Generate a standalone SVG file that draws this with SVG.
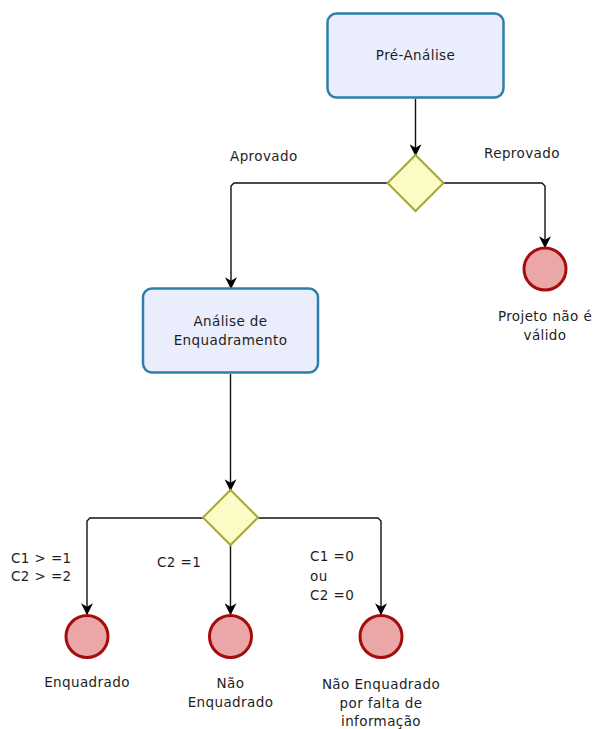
<svg xmlns="http://www.w3.org/2000/svg" width="595" height="729" viewBox="0 0 595 729">
<style>
.task{fill:#eaedfc;stroke:#2c7fa9;stroke-width:2.5}
.gw{fill:#fbfbc6;stroke:#a6a633;stroke-width:2}
.end{fill:#eba6a8;stroke:#a50d0d;stroke-width:3}
.conn{fill:none;stroke:#111;stroke-width:1.4}
text{font-family:"DejaVu Sans","Noto Sans",sans-serif;font-size:13.5px;fill:#1e1e1e;letter-spacing:0.4px}
.c{text-anchor:middle}
</style>
<defs>
<marker id="arr" viewBox="0 0 10 10" refX="9" refY="5" markerWidth="12" markerHeight="12" markerUnits="userSpaceOnUse" orient="auto">
<path d="M0,0 L10,5 L0,10 L3,5 z" fill="#000"/>
</marker>
</defs>
<g id="connectors">
<path class="conn" d="M415.5,99 V155" marker-end="url(#arr)"/>
<path class="conn" d="M388,183 H234 L231,186 V288" marker-end="url(#arr)"/>
<path class="conn" d="M443,183 H542 L545,186 V247" marker-end="url(#arr)"/>
<path class="conn" d="M230.5,374 V490" marker-end="url(#arr)"/>
<path class="conn" d="M203,518 H90 L87,521 V614" marker-end="url(#arr)"/>
<path class="conn" d="M230.5,545 V614" marker-end="url(#arr)"/>
<path class="conn" d="M258,518 H378 L381,521 V614" marker-end="url(#arr)"/>
</g>
<g id="pre-analise">
<rect class="task" x="327.5" y="13.5" width="176" height="84" rx="9"/>
<text class="c" x="415.5" y="60">Pré-Análise</text>
</g>
<g id="gateway1">
<polygon class="gw" points="415.5,155 443.5,183 415.5,211 387.5,183"/>
</g>
<g id="label-aprovado"><text x="230" y="161">Aprovado</text></g>
<g id="label-reprovado"><text x="484" y="158">Reprovado</text></g>
<g id="end-invalido">
<circle class="end" cx="545" cy="269" r="21"/>
<text class="c" x="545" y="321">Projeto não é</text>
<text class="c" x="545" y="340">válido</text>
</g>
<g id="analise-enquadramento">
<rect class="task" x="143" y="288.5" width="175" height="84" rx="9"/>
<text class="c" x="230.5" y="326">Análise de</text>
<text class="c" x="230.5" y="345">Enquadramento</text>
</g>
<g id="gateway2">
<polygon class="gw" points="230.5,490 258,517.5 230.5,545 203,517.5"/>
</g>
<g id="labels-conditions">
<text x="11" y="563">C1 &gt; =1</text>
<text x="11" y="581">C2 &gt; =2</text>
<text x="157" y="567">C2 =1</text>
<text x="310" y="561">C1 =0</text>
<text x="310" y="581">ou</text>
<text x="310" y="600">C2 =0</text>
</g>
<g id="end-enquadrado">
<circle class="end" cx="87" cy="636.5" r="21"/>
<text class="c" x="87" y="687">Enquadrado</text>
</g>
<g id="end-nao-enquadrado">
<circle class="end" cx="230.5" cy="636.5" r="21"/>
<text class="c" x="230.5" y="688">Não</text>
<text class="c" x="230.5" y="707">Enquadrado</text>
</g>
<g id="end-falta-info">
<circle class="end" cx="381" cy="636.5" r="21"/>
<text class="c" x="381" y="689">Não Enquadrado</text>
<text class="c" x="381" y="708">por falta de</text>
<text class="c" x="381" y="726">informação</text>
</g>
</svg>
